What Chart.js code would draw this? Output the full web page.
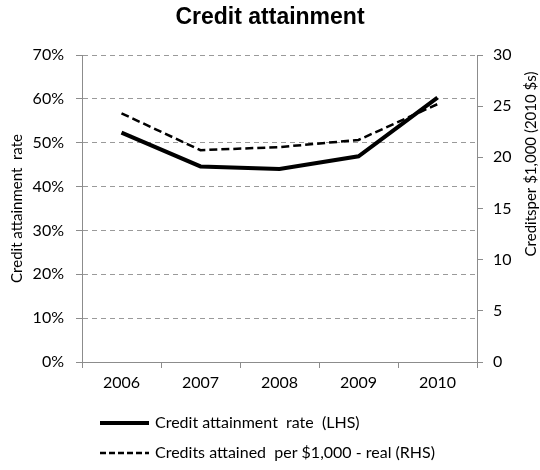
<!DOCTYPE html>
<html>
<head>
<meta charset="utf-8">
<script src="https://cdn.jsdelivr.net/npm/chart.js@4"></script>
<style>
  html, body { margin: 0; padding: 0; background: #fff; }
  #wrap { width: 540px; height: 470px; position: relative; }
</style>
</head>
<body>
<div id="wrap"><canvas id="c" width="540" height="470"></canvas></div>
<script>
// ---- data ----
const years = ['2006', '2007', '2008', '2009', '2010'];
const attainmentRate = [52.3, 44.6, 44.0, 46.9, 60.3];       // % (LHS)
const creditsPerThousand = [24.3, 20.7, 21.0, 21.7, 25.2];   // credits per $1,000 real (RHS)
const leftTicks = [0, 10, 20, 30, 40, 50, 60, 70];
const rightTicks = [0, 5, 10, 15, 20, 25, 30];
const seriesLabels = ['Credit attainment  rate  (LHS)', 'Credits attained  per $1,000 - real (RHS)'];
const titleText = 'Credit attainment';
const leftAxisTitle = 'Credit attainment  rate';
const rightAxisTitle = 'Creditsper $1,000 (2010 $s)';

const FONT = 'Lato, "Open Sans", sans-serif';
const AXIS_COLOR = '#8c8c8c';
const GRID_COLOR = '#9a9a9a';

const extras = {
  id: 'extras',
  afterDraw(chart) {
    const ctx = chart.ctx;
    ctx.save();
    // right axis title (reads bottom-to-top)
    ctx.font = '15px ' + FONT;
    ctx.fillStyle = '#000';
    ctx.textAlign = 'center';
    ctx.textBaseline = 'middle';
    ctx.translate(531, 164);
    ctx.rotate(-Math.PI / 2);
    ctx.fillText(rightAxisTitle, 0, 0);
    ctx.restore();

    // legend
    ctx.save();
    const rows = [
      { y: 423, width: 4, dash: [] },
      { y: 453, width: 2.5, dash: [6, 3] }
    ];
    chart.data.datasets.forEach((ds, i) => {
      const r = rows[i];
      ctx.beginPath();
      ctx.setLineDash(r.dash);
      ctx.lineWidth = r.width;
      ctx.strokeStyle = '#000';
      ctx.moveTo(100, r.y);
      ctx.lineTo(149, r.y);
      ctx.stroke();
      ctx.setLineDash([]);
      ctx.font = '16px ' + FONT;
      ctx.fillStyle = '#000';
      ctx.textAlign = 'left';
      ctx.textBaseline = 'middle';
      ctx.fillText(ds.label, 155, r.y);
    });
    ctx.restore();
  }
};

new Chart(document.getElementById('c'), {
  type: 'line',
  data: {
    labels: years,
    datasets: [
      {
        label: seriesLabels[0],
        data: attainmentRate,
        yAxisID: 'y',
        borderColor: '#000',
        borderWidth: 4,
        pointRadius: 0,
        tension: 0,
        fill: false
      },
      {
        label: seriesLabels[1],
        data: creditsPerThousand,
        yAxisID: 'y1',
        borderColor: '#000',
        borderWidth: 2.5,
        borderDash: [8, 4],
        pointRadius: 0,
        tension: 0,
        fill: false
      }
    ]
  },
  options: {
    responsive: false,
    animation: false,
    events: [],
    layout: { padding: { left: 0, right: 0, top: 0, bottom: 68 } },
    plugins: {
      legend: { display: false },
      tooltip: { enabled: false },
      title: {
        display: true,
        text: titleText,
        color: '#000',
        font: { family: '"Liberation Sans", Arial, sans-serif', size: 23, weight: 'bold', lineHeight: 1.2 },
        padding: { top: 4, bottom: 23.4 }
      }
    },
    scales: {
      x: {
        offset: true,
        grid: { display: true, drawOnChartArea: false, drawTicks: true, tickLength: 6, offset: true, color: AXIS_COLOR },
        border: { display: true, color: AXIS_COLOR, width: 1 },
        ticks: { color: '#000', font: { family: FONT, size: 16 }, padding: 5, maxRotation: 0 },
        afterFit(scale) { scale.height = 40; }
      },
      y: {
        position: 'left',
        min: 0,
        max: 70,
        afterBuildTicks(scale) { scale.ticks = leftTicks.map(v => ({ value: v })); },
        ticks: { color: '#000', font: { family: FONT, size: 16 }, padding: 12, callback: v => v + '%' },
        grid: { color: GRID_COLOR, tickLength: 6, drawTicks: true, tickColor: AXIS_COLOR },
        border: { display: true, color: AXIS_COLOR, dash: [5, 4], width: 1 },
        title: { display: true, text: leftAxisTitle, color: '#000', font: { family: FONT, size: 15 }, padding: { top: 8, bottom: 0 } },
        afterFit(scale) { scale.width = 82; }
      },
      y1: {
        position: 'right',
        min: 0,
        max: 30,
        afterBuildTicks(scale) { scale.ticks = rightTicks.map(v => ({ value: v })); },
        ticks: { color: '#000', font: { family: FONT, size: 16 }, padding: 10 },
        grid: { drawOnChartArea: false, tickLength: 6, drawTicks: true, color: AXIS_COLOR },
        border: { display: true, color: AXIS_COLOR, width: 1 },
        afterFit(scale) { scale.width = 63; }
      }
    }
  },
  plugins: [extras]
});
</script>
</body>
</html>
